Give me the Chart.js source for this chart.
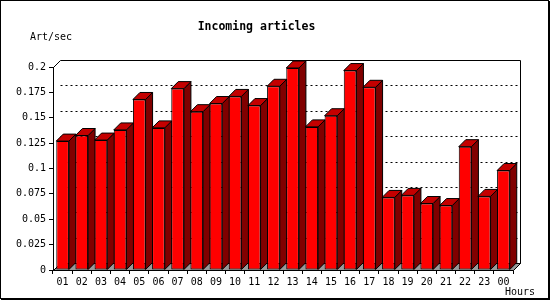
<!DOCTYPE html>
<html>
<head>
<meta charset="utf-8">
<script src="https://cdn.jsdelivr.net/npm/chart.js@4"></script>
<style>
html, body { margin: 0; padding: 0; background: #fff; }
canvas { display: block; }
</style>
</head>
<body>
<canvas id="chart" width="550" height="300"></canvas>
<script>
const hours = ['01', '02', '03', '04', '05', '06', '07', '08', '09', '10', '11', '12',
               '13', '14', '15', '16', '17', '18', '19', '20', '21', '22', '23', '00'];
const artPerSec = [0.127, 0.1325, 0.128, 0.138, 0.168, 0.140, 0.1787, 0.156, 0.164, 0.171, 0.162, 0.181,
                   0.199, 0.141, 0.152, 0.1965, 0.180, 0.0715, 0.0735, 0.0655, 0.0635, 0.1215, 0.0725, 0.098];
const yTicks = ['0', '0.025', '0.05', '0.075', '0.1', '0.125', '0.15', '0.175', '0.2'];
const chartTitle = 'Incoming articles';
const yUnit = 'Art/sec';
const xUnit = 'Hours';

const DEPTH = 7;
const MONO = '"DejaVu Sans Mono", "Liberation Mono", monospace';

// fake 3d: back wall, floor, side and top faces of the bars
const box3d = {
    id: 'box3d',
    beforeDraw(chart) {
        const ctx = chart.ctx;
        ctx.save();
        ctx.fillStyle = '#fff';
        ctx.fillRect(0, 0, chart.width, chart.height);
        ctx.restore();
    },
    beforeDatasetsDraw(chart) {
        const { ctx, chartArea: a, scales: { y } } = chart;
        const d = DEPTH;
        const L = Math.round(a.left) + 0.5, R = Math.round(a.right) + 0.5;
        const T = Math.round(a.top) + 0.5, B = Math.round(a.bottom) + 0.5;
        ctx.save();
        ctx.lineWidth = 1;
        ctx.strokeStyle = '#000';

        ctx.setLineDash([2, 3]);
        yTicks.forEach(t => {
            const v = parseFloat(t);
            if (v <= 0 || v >= y.max) return;
            const py = Math.round(y.getPixelForValue(v)) - d + 0.5;
            ctx.beginPath();
            ctx.moveTo(L + d, py);
            ctx.lineTo(R + d, py);
            ctx.stroke();
        });
        ctx.setLineDash([]);

        ctx.beginPath();
        ctx.moveTo(L, T);
        ctx.lineTo(L + d, T - d);
        ctx.lineTo(R + d, T - d);
        ctx.lineTo(R + d, B - d);
        ctx.lineTo(R, B);
        ctx.stroke();

        ctx.beginPath();
        ctx.moveTo(L, B);
        ctx.lineTo(R, B);
        ctx.lineTo(R + d, B - d);
        ctx.lineTo(L + d, B - d);
        ctx.closePath();
        ctx.fillStyle = '#999999';
        ctx.fill();
        ctx.stroke();

        chart.getDatasetMeta(0).data.forEach(bar => {
            const x0 = bar.x - bar.width / 2, x1 = bar.x + bar.width / 2;
            const top = bar.y, base = bar.base;
            ctx.beginPath();
            ctx.moveTo(x1, top);
            ctx.lineTo(x1 + d, top - d);
            ctx.lineTo(x1 + d, base - d);
            ctx.lineTo(x1, base);
            ctx.closePath();
            ctx.fillStyle = '#800000';
            ctx.fill();
            ctx.stroke();

            ctx.beginPath();
            ctx.moveTo(x0, top);
            ctx.lineTo(x0 + d, top - d);
            ctx.lineTo(x1 + d, top - d);
            ctx.lineTo(x1, top);
            ctx.closePath();
            ctx.fillStyle = '#c40000';
            ctx.fill();
            ctx.stroke();
        });
        ctx.restore();
    },
    afterDraw(chart) {
        const ctx = chart.ctx;
        ctx.save();
        ctx.fillStyle = '#000';
        ctx.font = '10px ' + MONO;
        ctx.textBaseline = 'middle';
        ctx.textAlign = 'left';
        ctx.fillText(yUnit, 30, 37);
        ctx.fillText(xUnit, 505, 292);

        ctx.strokeStyle = '#000';
        ctx.lineWidth = 1;
        ctx.strokeRect(0.5, 0.5, 548, 298);
        ctx.fillRect(549, 1, 1, 299);
        ctx.fillRect(1, 299, 549, 1);
        ctx.restore();
    }
};

new Chart(document.getElementById('chart'), {
    type: 'bar',
    data: {
        labels: hours,
        datasets: [{
            label: yUnit,
            data: artPerSec,
            backgroundColor: '#ff0000',
            borderColor: '#000',
            borderWidth: 1,
            borderSkipped: false,
            barPercentage: 0.66,
            categoryPercentage: 1
        }]
    },
    options: {
        responsive: false,
        animation: false,
        layout: { padding: { left: 0, right: 37, top: 0, bottom: 0 } },
        plugins: {
            legend: { display: false },
            tooltip: { enabled: false },
            title: {
                display: true,
                text: chartTitle,
                color: '#000',
                font: { family: MONO, size: 11.5, weight: 'bold', lineHeight: 1.2 },
                padding: { top: 20, bottom: 33.2 }
            }
        },
        scales: {
            x: {
                offset: true,
                grid: { offset: true, drawOnChartArea: false, tickLength: 4, color: '#000' },
                border: { color: '#000', width: 1 },
                ticks: { padding: 2, color: '#000', font: { family: MONO, size: 10 }, maxRotation: 0, autoSkip: false },
                afterFit(s) { s.height = 30; }
            },
            y: {
                min: 0,
                max: 0.2,
                grid: { drawOnChartArea: false, tickLength: 4, color: '#000' },
                border: { color: '#000', width: 1 },
                ticks: {
                    stepSize: 0.025,
                    padding: 3,
                    color: '#000',
                    font: { family: MONO, size: 10 },
                    callback: v => yTicks.find(t => Math.abs(parseFloat(t) - v) < 1e-9) ?? ''
                },
                afterFit(s) { s.width = 53; }
            }
        }
    },
    plugins: [box3d]
});
</script>
</body>
</html>
